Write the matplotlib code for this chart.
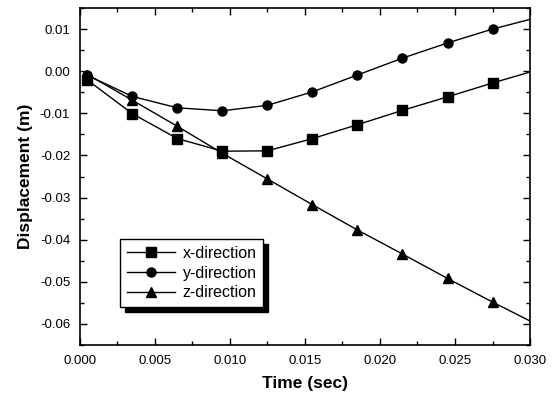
import matplotlib
matplotlib.use("Agg")
import matplotlib.pyplot as plt
from matplotlib.ticker import MultipleLocator, FormatStrFormatter

plt.rcParams['font.family'] = ['Liberation Sans', 'DejaVu Sans']

# Time values (last point is the curve end, drawn without marker)
time = [0.0005, 0.0035, 0.0065, 0.0095, 0.0125, 0.0155, 0.0185, 0.0215, 0.0245, 0.0275, 0.030]
x_dir = [-0.0021, -0.0101, -0.0160, -0.0190, -0.0189, -0.0160, -0.0127, -0.0093, -0.0061, -0.0028, -0.0002]
y_dir = [-0.0010, -0.0060, -0.0087, -0.0094, -0.0081, -0.0049, -0.0009, 0.0031, 0.0067, 0.0100, 0.0123]
z_dir = [-0.0008, -0.0069, -0.0131, -0.0195, -0.0256, -0.0317, -0.0377, -0.0434, -0.0492, -0.0548, -0.0593]

labels = ['x-direction', 'y-direction', 'z-direction']
markers = ['s', 'o', '^']

fig = plt.figure(figsize=(5.55, 4.0), dpi=100)
ax = fig.add_axes([0.144, 0.1375, 0.811, 0.8425])

marks = list(range(len(time) - 1))
for series, lab, mk in zip([x_dir, y_dir, z_dir], labels, markers):
    ax.plot(time, series, color='black', lw=1.0, marker=mk, markersize=6.5,
            markevery=marks, label=lab)

ax.set_xlim(0, 0.030)
ax.set_ylim(-0.065, 0.015)
ax.xaxis.set_major_locator(MultipleLocator(0.005))
ax.xaxis.set_minor_locator(MultipleLocator(0.0025))
ax.yaxis.set_major_locator(MultipleLocator(0.01))
ax.yaxis.set_minor_locator(MultipleLocator(0.005))
ax.xaxis.set_major_formatter(FormatStrFormatter('%.3f'))
ax.yaxis.set_major_formatter(FormatStrFormatter('%.2f'))
ax.tick_params(which='both', direction='in', top=True, right=True, labelsize=9.5, width=1)
ax.tick_params(which='major', length=5, pad=7)
ax.tick_params(which='minor', length=3)
for s in ax.spines.values():
    s.set_linewidth(1.2)

ax.set_xlabel('Time (sec)', fontsize=12.5, fontweight='bold', labelpad=7)
ax.set_ylabel('Displacement (m)', fontsize=12.5, fontweight='bold', labelpad=5)

leg = ax.legend(loc='lower left', bbox_to_anchor=(0.072, 0.09), fontsize=11.5,
                handlelength=3.0, fancybox=False, edgecolor='black', framealpha=1,
                borderpad=0.4, labelspacing=0.3, handletextpad=0.5,
                shadow={'ox': 3.5, 'oy': -3.5, 'color': 'black', 'alpha': 1})
leg.get_frame().set_linewidth(1.0)

fig.savefig('out.png', dpi=100)
